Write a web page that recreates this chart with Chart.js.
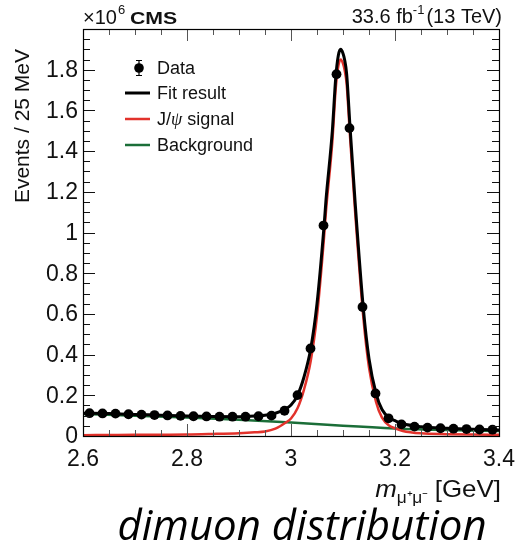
<!DOCTYPE html>
<html>
<head>
<meta charset="utf-8">
<script src="https://cdn.jsdelivr.net/npm/chart.js@4"></script>
<style>
  html, body { margin: 0; padding: 0; background: #fff; }
  canvas { display: block; }
</style>
</head>
<body>
<canvas id="mass" width="516" height="549"></canvas>
<script>
// dimuon invariant mass, events per 25 MeV bin (x10^6)
const binCenters = [2.6125, 2.6375, 2.6625, 2.6875, 2.7125, 2.7375, 2.7625, 2.7875,
  2.8125, 2.8375, 2.8625, 2.8875, 2.9125, 2.9375, 2.9625, 2.9875,
  3.0125, 3.0375, 3.0625, 3.0875, 3.1125, 3.1375, 3.1625, 3.1875,
  3.2125, 3.2375, 3.2625, 3.2875, 3.3125, 3.3375, 3.3625, 3.3875];
const counts = [0.112, 0.111, 0.110, 0.107, 0.105, 0.103, 0.101, 0.099,
  0.097, 0.096, 0.095, 0.095, 0.095, 0.097, 0.100, 0.124,
  0.201, 0.430, 1.034, 1.778, 1.513, 0.634, 0.209, 0.087,
  0.057, 0.046, 0.041, 0.038, 0.036, 0.034, 0.032, 0.031];

// fit curves
const curveX = [2.60, 2.65, 2.70, 2.75, 2.80, 2.85, 2.90, 2.93, 2.95, 2.97, 2.99, 3.00,
  3.0125, 3.025, 3.038, 3.05, 3.0635, 3.0673, 3.0795, 3.086, 3.091, 3.0955, 3.100,
  3.103, 3.107, 3.1135, 3.123, 3.139, 3.15, 3.1635, 3.175, 3.19, 3.20, 3.215,
  3.25, 3.30, 3.35, 3.40];
const fitY = [0.112, 0.110, 0.106, 0.102, 0.098, 0.096, 0.095, 0.098, 0.102, 0.112, 0.134, 0.152,
  0.20, 0.29, 0.43, 0.65, 1.03, 1.16, 1.50, 1.76, 1.87, 1.90, 1.88,
  1.85, 1.78, 1.52, 1.16, 0.63, 0.38, 0.21, 0.13, 0.087, 0.075, 0.060,
  0.046, 0.038, 0.033, 0.030];
const signalY = [0.004, 0.005, 0.006, 0.0065, 0.007, 0.010, 0.014, 0.018, 0.022, 0.036, 0.066, 0.086,
  0.136, 0.228, 0.37, 0.59, 0.975, 1.105, 1.447, 1.708, 1.818, 1.85, 1.83,
  1.80, 1.73, 1.472, 1.113, 0.585, 0.336, 0.168, 0.09, 0.049, 0.038, 0.025,
  0.013, 0.009, 0.007, 0.006];
const bkgX = [2.6, 2.7, 2.8, 2.9, 3.0, 3.1, 3.2, 3.3, 3.4];
const bkgY = [0.108, 0.100, 0.091, 0.080, 0.066, 0.050, 0.037, 0.029, 0.024];

const xTickLabels = [2.6, 2.8, 3, 3.2, 3.4];
const yTickLabels = [0, 0.2, 0.4, 0.6, 0.8, 1, 1.2, 1.4, 1.6, 1.8];
const legendLabels = ['Data', 'Fit result', 'J/\u03C8 signal', 'Background'];

const RED = '#e2322b';
const GREEN = '#1b6e38';
const FONT = '"Liberation Sans", Arial, sans-serif';

function pts(xs, ys) {
  return xs.map((x, i) => ({ x: x, y: ys[i] }));
}

// draw text stretched horizontally by sx, returns drawn width
function wideText(ctx, str, x, y, font, sx) {
  ctx.font = font;
  const w = ctx.measureText(str).width;
  ctx.save();
  ctx.translate(x, y);
  ctx.scale(sx, 1);
  ctx.fillText(str, 0, 0);
  ctx.restore();
  return w * sx;
}

// ROOT-like frame: inside ticks on all four sides, labels, titles, legend
const rootFrame = {
  id: 'rootFrame',
  afterDatasetsDraw(chart) {
    const ctx = chart.ctx;
    const a = chart.chartArea;
    const xs = chart.scales.x, ys = chart.scales.y;
    ctx.save();

    // x ticks every 0.05, major every 0.2
    ctx.strokeStyle = '#555';
    ctx.lineWidth = 1;
    for (let i = 0; i <= 16; i++) {
      const px = Math.round(xs.getPixelForValue(2.6 + i * 0.05)) + 0.5;
      const len = i % 4 === 0 ? 12 : 6;
      ctx.beginPath();
      ctx.moveTo(px, a.bottom); ctx.lineTo(px, a.bottom - len);
      ctx.moveTo(px, a.top); ctx.lineTo(px, a.top + len);
      ctx.stroke();
    }
    // y ticks every 0.05, major every 0.2
    ctx.strokeStyle = '#111';
    for (let i = 0; i <= 40; i++) {
      const py = Math.round(ys.getPixelForValue(i * 0.05)) + 0.5;
      const len = i % 4 === 0 ? 12 : 7;
      ctx.beginPath();
      ctx.moveTo(a.left, py); ctx.lineTo(a.left + len, py);
      ctx.moveTo(a.right, py); ctx.lineTo(a.right - len, py);
      ctx.stroke();
    }
    // frame
    ctx.strokeStyle = '#000';
    ctx.lineWidth = 1.2;
    ctx.strokeRect(a.left + 0.5, a.top + 0.5, a.right - a.left, a.bottom - a.top);

    // tick labels
    ctx.fillStyle = '#111';
    ctx.font = '23px ' + FONT;
    ctx.textAlign = 'right';
    ctx.textBaseline = 'middle';
    yTickLabels.forEach(v => ctx.fillText(String(v), a.left - 5, ys.getPixelForValue(v) + 1));
    ctx.textAlign = 'center';
    ctx.textBaseline = 'top';
    xTickLabels.forEach(v => ctx.fillText(String(v), xs.getPixelForValue(v), a.bottom + 12));

    // y title
    ctx.save();
    ctx.translate(29, 49);
    ctx.rotate(-Math.PI / 2);
    ctx.font = '21px ' + FONT;
    ctx.textAlign = 'right';
    ctx.textBaseline = 'alphabetic';
    ctx.fillText('Events / 25 MeV', 0, 0);
    ctx.restore();

    // x title: m_{mu+mu-} [GeV]
    ctx.textBaseline = 'alphabetic';
    ctx.textAlign = 'left';
    const sx = 1.08;
    const gev = ' [GeV]', sub = '\u03BC\u207A\u03BC\u207B';
    const fM = 'italic 24px ' + FONT, fSub = '16px ' + FONT, fGev = '24px ' + FONT;
    ctx.font = fGev;
    const wGev = ctx.measureText(gev).width * sx;
    ctx.font = fSub;
    const wSub = ctx.measureText(sub).width * sx;
    ctx.font = fM;
    const wM = ctx.measureText('m').width * sx;
    let tx = 501 - wGev - wSub - wM;
    tx += wideText(ctx, 'm', tx, 497, fM, sx);
    tx += wideText(ctx, sub, tx, 503, fSub, sx);
    wideText(ctx, gev, tx, 497, fGev, sx);

    // header: x10^6 CMS
    let hx = 83;
    hx += wideText(ctx, '\u00D710', hx, 24, '20px ' + FONT, 1);
    wideText(ctx, '6', hx + 1, 14, '13px ' + FONT, 1);
    wideText(ctx, 'CMS', 130, 24, 'bold 17px ' + FONT, 1.25);

    // lumi label
    const l1 = '33.6 fb', l2 = '-1', l3 = '(13 TeV)';
    ctx.font = '20px ' + FONT;
    const w1 = ctx.measureText(l1).width, w3 = ctx.measureText(l3).width;
    ctx.font = '13px ' + FONT;
    const w2 = ctx.measureText(l2).width;
    let lx = 502 - w1 - w2 - w3 - 2;
    lx += wideText(ctx, l1, lx, 23, '20px ' + FONT, 1);
    lx += wideText(ctx, l2, lx, 14, '13px ' + FONT, 1) + 2;
    wideText(ctx, l3, lx, 23, '20px ' + FONT, 1);

    // legend
    const ly = [68, 93, 119, 145];
    ctx.fillStyle = '#000';
    ctx.strokeStyle = '#000';
    ctx.lineWidth = 1.2;
    ctx.beginPath();
    ctx.moveTo(139, ly[0] - 7.5); ctx.lineTo(139, ly[0] + 7.5);
    ctx.moveTo(136, ly[0] - 7.5); ctx.lineTo(142, ly[0] - 7.5);
    ctx.moveTo(136, ly[0] + 7.5); ctx.lineTo(142, ly[0] + 7.5);
    ctx.stroke();
    ctx.beginPath();
    ctx.arc(139, ly[0], 4.8, 0, Math.PI * 2);
    ctx.fill();
    [['#000', 3], [RED, 2.5], [GREEN, 2.5]].forEach((s, i) => {
      ctx.strokeStyle = s[0];
      ctx.lineWidth = s[1];
      ctx.beginPath();
      ctx.moveTo(125, ly[i + 1]); ctx.lineTo(150, ly[i + 1]);
      ctx.stroke();
    });
    ctx.fillStyle = '#111';
    ctx.textBaseline = 'middle';
    ctx.font = '18px ' + FONT;
    ctx.fillText(legendLabels[0], 157, ly[0] + 1);
    ctx.fillText(legendLabels[1], 157, ly[1] + 1);
    // J/psi with italic psi
    const parts = legendLabels[2].split('\u03C8');
    let jx = 157;
    ctx.fillText(parts[0], jx, ly[2] + 1); jx += ctx.measureText(parts[0]).width;
    ctx.font = 'italic 18px "Liberation Serif", serif';
    ctx.fillText('\u03C8', jx, ly[2] + 1); jx += ctx.measureText('\u03C8').width;
    ctx.font = '18px ' + FONT;
    ctx.fillText(parts[1], jx, ly[2] + 1);
    ctx.fillText(legendLabels[3], 157, ly[3] + 1);

    // caption
    ctx.fillStyle = '#000';
    ctx.textAlign = 'center';
    ctx.textBaseline = 'alphabetic';
    ctx.font = 'italic 42px "Open Sans", "Noto Sans", sans-serif';
    ctx.fillText('dimuon distribution', 302, 540);

    ctx.restore();
  }
};

const ctx = document.getElementById('mass').getContext('2d');

new Chart(ctx, {
  type: 'scatter',
  data: {
    datasets: [
      {
        label: 'Data',
        data: pts(binCenters, counts),
        showLine: false,
        pointRadius: 4.9,
        pointBackgroundColor: '#000',
        pointBorderWidth: 0
      },
      {
        label: 'Fit result',
        data: pts(curveX, fitY),
        showLine: true,
        borderColor: '#000',
        borderWidth: 3,
        pointRadius: 0,
        cubicInterpolationMode: 'monotone'
      },
      {
        label: 'J/psi signal',
        data: pts(curveX, signalY),
        showLine: true,
        borderColor: RED,
        borderWidth: 2.5,
        pointRadius: 0,
        cubicInterpolationMode: 'monotone'
      },
      {
        label: 'Background',
        data: pts(bkgX, bkgY),
        showLine: true,
        borderColor: GREEN,
        borderWidth: 2.5,
        pointRadius: 0,
        cubicInterpolationMode: 'monotone'
      }
    ]
  },
  options: {
    responsive: false,
    animation: false,
    layout: { padding: { left: 83, right: 17, top: 29, bottom: 113 } },
    plugins: { legend: { display: false }, tooltip: { enabled: false } },
    scales: {
      x: { type: 'linear', min: 2.6, max: 3.4, display: false },
      y: { type: 'linear', min: 0, max: 2.0, display: false }
    }
  },
  plugins: [rootFrame]
});
</script>
</body>
</html>
